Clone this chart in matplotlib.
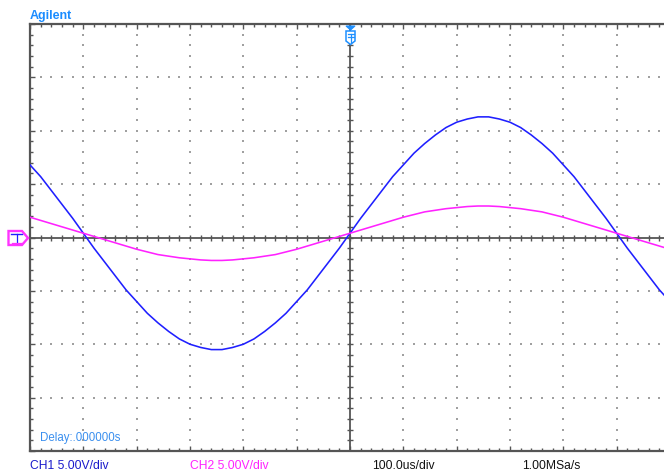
import numpy as np
import matplotlib
matplotlib.use("Agg")
import matplotlib.pyplot as plt
from matplotlib.patches import Polygon

plt.rcParams['font.family'] = ['Liberation Sans Narrow', 'Liberation Sans', 'DejaVu Sans']

# time base in us, voltages in V (5 V/div, 100 us/div)
t_us = np.arange(-600, 601, 20)
ch1_v = [6.8, 5.7, 4.4, 3.1, 1.8, 0.4, -1.0, -2.3, -3.6, -4.9,
         -6.0, -7.1, -8.0, -8.8, -9.5, -10.0, -10.3, -10.5, -10.5, -10.3,
         -10.0, -9.5, -8.8, -8.0, -7.1, -6.0, -4.9, -3.6, -2.3, -1.0,
         0.4, 1.8, 3.1, 4.4, 5.7, 6.8, 7.9, 8.8, 9.6, 10.3,
         10.8, 11.1, 11.3, 11.3, 11.1, 10.8, 10.3, 9.6, 8.8, 7.9,
         6.8, 5.7, 4.4, 3.1, 1.8, 0.4, -1.0, -2.3, -3.6, -4.9, -6.0]
ch2_v = [1.9, 1.6, 1.3, 1.0, 0.7, 0.4, 0.1, -0.2, -0.5, -0.8,
         -1.1, -1.35, -1.6, -1.75, -1.9, -2.0, -2.1, -2.15, -2.15, -2.1,
         -2.0, -1.9, -1.75, -1.6, -1.35, -1.1, -0.8, -0.5, -0.2, 0.1,
         0.4, 0.7, 1.0, 1.3, 1.6, 1.9, 2.15, 2.4, 2.55, 2.7,
         2.8, 2.9, 2.95, 2.95, 2.9, 2.8, 2.7, 2.55, 2.4, 2.15,
         1.9, 1.6, 1.3, 1.0, 0.7, 0.4, 0.1, -0.2, -0.5, -0.8, -1.1]

W, H = 664, 477
fig = plt.figure(figsize=(W / 100, H / 100), dpi=100)
fig.patch.set_facecolor('white')

# screen area (right border falls just outside the picture)
ax = fig.add_axes([30 / W, 25 / H, 640 / W, 427 / H])
ax.set_xlim(-600, 600)
ax.set_ylim(-20, 20)
gray = '#555555'
for s in ax.spines.values():
    s.set_color(gray)
    s.set_linewidth(1.6)
ax.set_xticks(np.arange(-600, 601, 100))
ax.set_xticks(np.arange(-600, 601, 20), minor=True)
ax.set_yticks(np.arange(-20, 21, 5))
ax.set_yticks(np.arange(-20, 21, 1), minor=True)
ax.tick_params(which='both', direction='in', top=True, right=True,
               labelbottom=False, labelleft=False, color=gray, width=1)
ax.tick_params(which='major', length=3.5)
ax.tick_params(which='minor', length=2.2)

# dotted graticule
dot_c = '#a0a0a0'
for xv in np.arange(-500, 501, 100):
    if xv == 0:
        continue
    yy = np.arange(-19, 20, 1)
    ax.scatter(np.full(len(yy), xv), yy, s=1.1, marker='s', color=dot_c, linewidths=0, zorder=1)
for yv in np.arange(-15, 16, 5):
    if yv == 0:
        continue
    xx = np.arange(-580, 600, 20)
    ax.scatter(xx, np.full(len(xx), yv), s=1.1, marker='s', color=dot_c, linewidths=0, zorder=1)

# centre cross with ticks
ax.axhline(0, color=gray, lw=1.3, zorder=2)
ax.axvline(0, color=gray, lw=1.3, zorder=2)
xc = np.arange(-580, 600, 20)
ax.plot(xc, np.zeros(len(xc)), '|', ms=4.5, mew=1, color=gray, zorder=2)
yc = np.arange(-19, 20, 1)
ax.plot(np.zeros(len(yc)), yc, '_', ms=4.5, mew=1, color=gray, zorder=2)

# traces
ax.plot(t_us, ch1_v, color='#1f1fff', lw=1.15, zorder=4)
ax.plot(t_us, ch2_v, color='#ff22ff', lw=1.15, zorder=5)

# overlay in pixel coordinates for markers and labels
ov = fig.add_axes([0, 0, 1, 1], facecolor='none')
ov.set_xlim(0, W)
ov.set_ylim(H, 0)
ov.axis('off')

# ground markers (left)
ov.add_patch(Polygon([(8.5, 232), (22, 232), (28, 239), (22, 246), (8.5, 246)],
                     closed=True, facecolor='white', edgecolor='#ff33ff', lw=1.7, zorder=6))
ov.plot([11, 22], [235, 235], color='#1f1fff', lw=1.0, zorder=7)
ov.plot([16.5, 16.5], [235, 243.5], color='#1f1fff', lw=0.9, zorder=7)
ov.plot([12, 22], [243.5, 243.5], color='#ff33ff', lw=0.9, zorder=7)

# trigger marker (top)
ov.add_patch(Polygon([(346, 27), (355, 27), (350.5, 31)], closed=True,
                     facecolor='#1e90ff', edgecolor='#1e90ff', lw=0.8, zorder=6))
ov.add_patch(Polygon([(346, 32), (355, 32), (355, 42), (350.5, 45.5), (346, 42)],
                     closed=True, facecolor='white', edgecolor='#1e90ff', lw=1.1, zorder=6))
ov.plot([347.5, 353.5], [34.5, 34.5], color='#1e90ff', lw=0.9, zorder=7)
ov.plot([347.5, 353.5], [37.5, 37.5], color='#1e90ff', lw=0.9, zorder=7)
ov.plot([350.5, 350.5], [34.5, 43], color='#1e90ff', lw=0.9, zorder=7)

# texts
ov.text(30, 15.5, 'Agilent', color='#1a8cff', fontsize=9, fontweight='bold',
        family=['Liberation Sans', 'DejaVu Sans'], va='center', ha='left')
ov.text(40, 438, 'Delay:.000000s', color='#3a8fef', fontsize=8.3, va='center', ha='left')
ov.text(30, 466, 'CH1 5.00V/div', color='#1a1acc', fontsize=8.7, va='center', ha='left')
ov.text(190, 466, 'CH2 5.00V/div', color='#ff22ff', fontsize=8.7, va='center', ha='left')
ov.text(372, 466, '100.0us/div', color='#111111', fontsize=8.7, va='center', ha='left')
ov.text(522, 466, '1.00MSa/s', color='#111111', fontsize=8.7, va='center', ha='left')

fig.savefig('out.png', dpi=100)
